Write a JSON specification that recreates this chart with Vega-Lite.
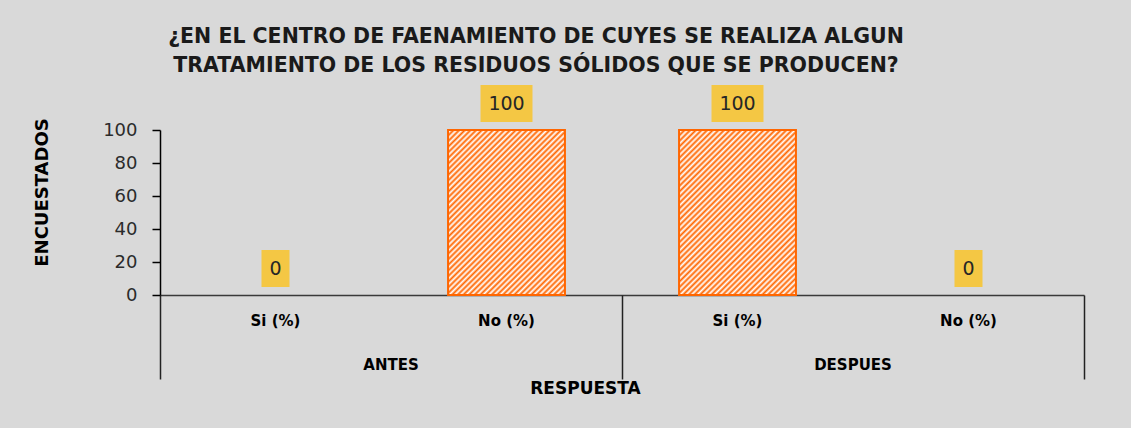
{
  "$schema": "https://vega.github.io/schema/vega-lite/v6.json",
  "autosize": {"type": "none"},
  "width": 924,
  "height": 165,
  "padding": {"left": 160, "top": 130, "right": 47, "bottom": 133},
  "background": "#d9d9d9",
  "config": {"view": {"stroke": null}, "font": "DejaVu Sans", "axis": {"grid": false}},
  "title": {
    "text": ["¿EN EL CENTRO DE FAENAMIENTO DE CUYES SE REALIZA ALGUN", "TRATAMIENTO DE LOS RESIDUOS SÓLIDOS QUE SE PRODUCEN?"],
    "font": "DejaVu Sans",
    "fontSize": 20.5,
    "fontWeight": "bold",
    "color": "#1a1a1a",
    "anchor": "middle",
    "dx": -86,
    "offset": 9,
    "lineHeight": 29
  },
  "data": {
    "values": [
      {"grupo": "ANTES", "respuesta": "Si (%)", "clave": "ANTES Si (%)", "encuestados": 0},
      {"grupo": "ANTES", "respuesta": "No (%)", "clave": "ANTES No (%)", "encuestados": 100},
      {"grupo": "DESPUES", "respuesta": "Si (%)", "clave": "DESPUES Si (%)", "encuestados": 100},
      {"grupo": "DESPUES", "respuesta": "No (%)", "clave": "DESPUES No (%)", "encuestados": 0}
    ]
  },
  "resolve": {"axis": {"x": "independent"}},
  "encoding": {
    "y": {
      "field": "encuestados", "type": "quantitative",
      "scale": {"domain": [0, 100], "nice": false},
      "axis": {
        "values": [0, 20, 40, 60, 80, 100],
        "title": "ENCUESTADOS", "titleFontSize": 18, "titleFontWeight": "bold", "titleColor": "#000000",
        "titleAngle": 270, "titleX": -118, "titleY": 62, "titleBaseline": "middle", "titleAlign": "center",
        "labelFontSize": 18, "labelColor": "#2b2b2b", "labelPadding": 15,
        "tickSize": 8, "tickColor": "#000000", "tickWidth": 1.5,
        "domainColor": "#000000", "domainWidth": 1.5
      }
    }
  },
  "layer": [
    {
      "mark": {
        "type": "bar",
        "width": {"band": 0.506},
        "stroke": "#ff6600",
        "strokeWidth": 2,
        "fill": {
          "gradient": "linear", "x1": 0, "y1": 0, "x2": 0.803, "y2": 1.139,
          "stops": [
            {"offset": 0, "color": "#ff6600"}, {"offset": 0.01, "color": "#ffffff"},
            {"offset": 0.02, "color": "#ff6600"}, {"offset": 0.03, "color": "#ffffff"},
            {"offset": 0.04, "color": "#ff6600"}, {"offset": 0.05, "color": "#ffffff"},
            {"offset": 0.06, "color": "#ff6600"}, {"offset": 0.07, "color": "#ffffff"},
            {"offset": 0.08, "color": "#ff6600"}, {"offset": 0.09, "color": "#ffffff"},
            {"offset": 0.10, "color": "#ff6600"}, {"offset": 0.11, "color": "#ffffff"},
            {"offset": 0.12, "color": "#ff6600"}, {"offset": 0.13, "color": "#ffffff"},
            {"offset": 0.14, "color": "#ff6600"}, {"offset": 0.15, "color": "#ffffff"},
            {"offset": 0.16, "color": "#ff6600"}, {"offset": 0.17, "color": "#ffffff"},
            {"offset": 0.18, "color": "#ff6600"}, {"offset": 0.19, "color": "#ffffff"},
            {"offset": 0.20, "color": "#ff6600"}, {"offset": 0.21, "color": "#ffffff"},
            {"offset": 0.22, "color": "#ff6600"}, {"offset": 0.23, "color": "#ffffff"},
            {"offset": 0.24, "color": "#ff6600"}, {"offset": 0.25, "color": "#ffffff"},
            {"offset": 0.26, "color": "#ff6600"}, {"offset": 0.27, "color": "#ffffff"},
            {"offset": 0.28, "color": "#ff6600"}, {"offset": 0.29, "color": "#ffffff"},
            {"offset": 0.30, "color": "#ff6600"}, {"offset": 0.31, "color": "#ffffff"},
            {"offset": 0.32, "color": "#ff6600"}, {"offset": 0.33, "color": "#ffffff"},
            {"offset": 0.34, "color": "#ff6600"}, {"offset": 0.35, "color": "#ffffff"},
            {"offset": 0.36, "color": "#ff6600"}, {"offset": 0.37, "color": "#ffffff"},
            {"offset": 0.38, "color": "#ff6600"}, {"offset": 0.39, "color": "#ffffff"},
            {"offset": 0.40, "color": "#ff6600"}, {"offset": 0.41, "color": "#ffffff"},
            {"offset": 0.42, "color": "#ff6600"}, {"offset": 0.43, "color": "#ffffff"},
            {"offset": 0.44, "color": "#ff6600"}, {"offset": 0.45, "color": "#ffffff"},
            {"offset": 0.46, "color": "#ff6600"}, {"offset": 0.47, "color": "#ffffff"},
            {"offset": 0.48, "color": "#ff6600"}, {"offset": 0.49, "color": "#ffffff"},
            {"offset": 0.50, "color": "#ff6600"}, {"offset": 0.51, "color": "#ffffff"},
            {"offset": 0.52, "color": "#ff6600"}, {"offset": 0.53, "color": "#ffffff"},
            {"offset": 0.54, "color": "#ff6600"}, {"offset": 0.55, "color": "#ffffff"},
            {"offset": 0.56, "color": "#ff6600"}, {"offset": 0.57, "color": "#ffffff"},
            {"offset": 0.58, "color": "#ff6600"}, {"offset": 0.59, "color": "#ffffff"},
            {"offset": 0.60, "color": "#ff6600"}, {"offset": 0.61, "color": "#ffffff"},
            {"offset": 0.62, "color": "#ff6600"}, {"offset": 0.63, "color": "#ffffff"},
            {"offset": 0.64, "color": "#ff6600"}, {"offset": 0.65, "color": "#ffffff"},
            {"offset": 0.66, "color": "#ff6600"}, {"offset": 0.67, "color": "#ffffff"},
            {"offset": 0.68, "color": "#ff6600"}, {"offset": 0.69, "color": "#ffffff"},
            {"offset": 0.70, "color": "#ff6600"}, {"offset": 0.71, "color": "#ffffff"},
            {"offset": 0.72, "color": "#ff6600"}, {"offset": 0.73, "color": "#ffffff"},
            {"offset": 0.74, "color": "#ff6600"}, {"offset": 0.75, "color": "#ffffff"},
            {"offset": 0.76, "color": "#ff6600"}, {"offset": 0.77, "color": "#ffffff"},
            {"offset": 0.78, "color": "#ff6600"}, {"offset": 0.79, "color": "#ffffff"},
            {"offset": 0.80, "color": "#ff6600"}, {"offset": 0.81, "color": "#ffffff"},
            {"offset": 0.82, "color": "#ff6600"}, {"offset": 0.83, "color": "#ffffff"},
            {"offset": 0.84, "color": "#ff6600"}, {"offset": 0.85, "color": "#ffffff"},
            {"offset": 0.86, "color": "#ff6600"}, {"offset": 0.87, "color": "#ffffff"},
            {"offset": 0.88, "color": "#ff6600"}, {"offset": 0.89, "color": "#ffffff"},
            {"offset": 0.90, "color": "#ff6600"}, {"offset": 0.91, "color": "#ffffff"},
            {"offset": 0.92, "color": "#ff6600"}, {"offset": 0.93, "color": "#ffffff"},
            {"offset": 0.94, "color": "#ff6600"}, {"offset": 0.95, "color": "#ffffff"},
            {"offset": 0.96, "color": "#ff6600"}, {"offset": 0.97, "color": "#ffffff"},
            {"offset": 0.98, "color": "#ff6600"}, {"offset": 0.99, "color": "#ffffff"},
            {"offset": 1, "color": "#ff6600"}
          ]
        }
      },
      "encoding": {
        "x": {
          "field": "clave", "type": "nominal", "sort": null,
          "scale": {"domain": ["ANTES Si (%)", "ANTES No (%)", "DESPUES Si (%)", "DESPUES No (%)"], "paddingInner": 0, "paddingOuter": 0},
          "axis": {
            "orient": "bottom", "title": null,
            "labelExpr": "substring(datum.label, indexof(datum.label, ' ') + 1)",
            "ticks": false, "domain": true, "domainColor": "#3a3a3a", "domainWidth": 1.5,
            "labelAngle": 0, "labelFontSize": 15, "labelFontWeight": "bold", "labelColor": "#000000",
            "labelPadding": 18, "labelBaseline": "top", "labelOverlap": false
          }
        },
        "strokeOpacity": {"condition": {"test": "datum.encuestados > 0", "value": 1}, "value": 0}
      }
    },
    {
      "mark": {"type": "point", "filled": true, "size": 1369, "color": "#f4c744", "opacity": 1, "strokeWidth": 0, "yOffset": -26.5},
      "encoding": {
        "x": {
          "field": "clave", "type": "nominal", "sort": null,
          "scale": {"domain": ["ANTES Si (%)", "ANTES No (%)", "DESPUES Si (%)", "DESPUES No (%)"], "paddingInner": 0, "paddingOuter": 0},
          "axis": {
            "orient": "bottom", "bandPosition": 0, "domain": false,
            "ticks": true, "tickSize": 84, "tickWidth": 1.5, "tickColor": "#222222",
            "tickOpacity": {"condition": {"test": "indexof(datum.value, 'Si') >= 0", "value": 1}, "value": 0},
            "labelExpr": "indexof(datum.label, 'No') >= 0 ? substring(datum.label, 0, indexof(datum.label, ' ')) : ''",
            "labelOffset": -115.5,
            "labelPadding": -22, "labelBaseline": "top", "labelAngle": 0, "labelFontSize": 15,
            "labelFontWeight": "bold", "labelColor": "#000000", "labelOverlap": false,
            "title": "RESPUESTA", "titleFontSize": 17, "titleFontWeight": "bold", "titleColor": "#000000",
            "titlePadding": 1, "titleX": 425
          }
        },
        "shape": {
          "condition": {"test": "datum.encuestados > 0", "value": "M-1.405,-1L1.405,-1L1.405,1L-1.405,1Z"},
          "value": "M-0.757,-1L0.757,-1L0.757,1L-0.757,1Z"
        }
      }
    },
    {
      "mark": {"type": "text", "yOffset": -26.5, "fontSize": 19, "color": "#262626", "baseline": "middle", "font": "DejaVu Sans"},
      "encoding": {
        "x": {
          "field": "clave", "type": "nominal", "sort": null,
          "scale": {"domain": ["ANTES Si (%)", "ANTES No (%)", "DESPUES Si (%)", "DESPUES No (%)"], "paddingInner": 0, "paddingOuter": 0},
          "axis": {
            "orient": "bottom", "bandPosition": 1, "domain": false, "labels": false, "title": null,
            "ticks": true, "tickSize": 84, "tickWidth": 1.5, "tickColor": "#222222",
            "tickOpacity": {"condition": {"test": "datum.value == 'DESPUES No (%)'", "value": 1}, "value": 0}
          }
        },
        "text": {"field": "encuestados", "type": "quantitative"}
      }
    }
  ]
}
